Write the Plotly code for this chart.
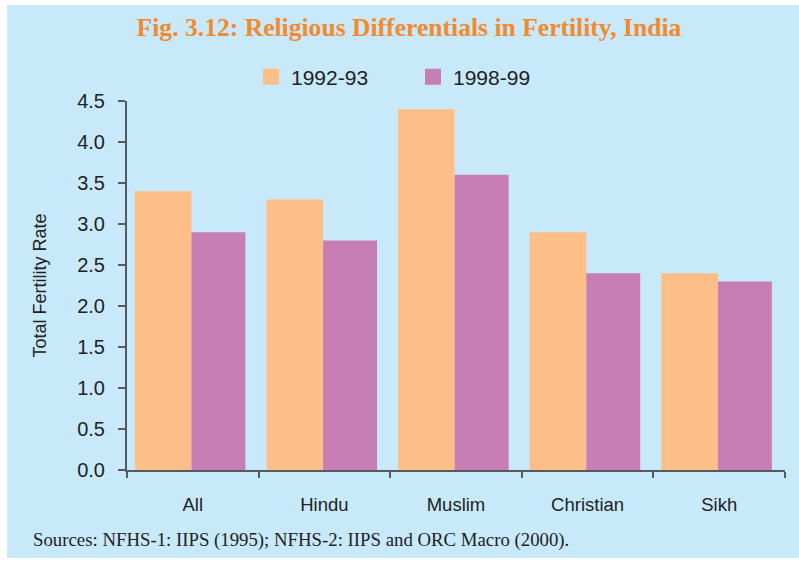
import plotly.graph_objects as go

categories = ["All", "Hindu", "Muslim", "Christian", "Sikh"]
tfr_1992 = [3.4, 3.3, 4.4, 2.9, 2.4]
tfr_1998 = [2.9, 2.8, 3.6, 2.4, 2.3]
series_names = ["1992-93", "1998-99"]
y_ticks = [0, 0.5, 1.0, 1.5, 2.0, 2.5, 3.0, 3.5, 4.0, 4.5]

ORANGE = "#FDBE87"
PURPLE = "#C77EB5"
BG = "#C8E9FA"
AXIS = "#555a60"
SANS = "Liberation Sans, Arial, sans-serif"
SERIF = "Liberation Serif, Times New Roman, serif"

fig = go.Figure()
fig.add_trace(go.Bar(x=categories, y=tfr_1992, name=series_names[0],
                     marker=dict(color=ORANGE, line=dict(width=0)),
                     width=0.43, offset=-0.44, showlegend=False))
fig.add_trace(go.Bar(x=categories, y=tfr_1998, name=series_names[1],
                     marker=dict(color=PURPLE, line=dict(width=0)),
                     width=0.41, offset=-0.01, showlegend=False))
# legend-only entries with larger square swatches
for nm, col in zip(series_names, [ORANGE, PURPLE]):
    fig.add_trace(go.Scatter(x=[None], y=[None], mode="markers", name=nm,
                             marker=dict(symbol="square", size=18, color=col),
                             showlegend=True, hoverinfo="skip"))

W, H = 799, 562
L, R, T, B = 127, 14, 101, 92
pw, ph = W - L - R, H - T - B

def px(x):
    return (x - L) / pw

def py(y):
    return (H - B - y) / ph

fig.add_shape(type="rect", xref="paper", yref="paper",
              x0=px(7), x1=px(799), y0=py(558), y1=py(5),
              fillcolor=BG, line=dict(width=0), layer="below")

fig.update_layout(
    width=W, height=H,
    margin=dict(l=L, r=R, t=T, b=B, autoexpand=False),
    paper_bgcolor="white", plot_bgcolor=BG,
    barmode="overlay",
    showlegend=True,
    legend=dict(orientation="h", xref="paper", yref="paper",
                x=px(413), xanchor="center", y=py(77), yanchor="middle",
                font=dict(family=SANS, size=21, color="#222"),
                bgcolor="rgba(0,0,0,0)", entrywidth=117, traceorder="normal",
                itemsizing="trace"),
    title=dict(text="Fig. 3.12: Religious Differentials in Fertility, India",
               x=409 / W, xref="container", xanchor="center",
               y=1 - 27 / H, yref="container", yanchor="middle",
               font=dict(family=SERIF, size=25.6, color="#F28A2E", weight="bold")),
    font=dict(family=SANS, color="#222"),
)

fig.update_xaxes(type="category", showline=True, linecolor=AXIS, linewidth=2,
                 ticks="outside", tickson="boundaries", ticklen=6, tickwidth=1.5,
                 tickcolor=AXIS, showgrid=False, zeroline=False,
                 tickfont=dict(family=SANS, size=18.5, color="#222"), ticklabelstandoff=17)
fig.update_yaxes(range=[0, 4.5], tickvals=y_ticks, tickformat=".1f",
                 showline=True, linecolor=AXIS, linewidth=2,
                 ticks="outside", ticklen=7, tickwidth=1.5, tickcolor=AXIS,
                 showgrid=False, zeroline=False, ticklabelstandoff=9,
                 tickfont=dict(family=SANS, size=20, color="#222"),
                 title=dict(text="Total Fertility Rate", standoff=26,
                            font=dict(family=SANS, size=18, color="#222")))

fig.add_annotation(text="Sources: NFHS-1: IIPS (1995); NFHS-2: IIPS and ORC Macro (2000).",
                   xref="paper", yref="paper", x=px(31), y=py(540),
                   xanchor="left", yanchor="middle", showarrow=False,
                   font=dict(family=SERIF, size=18.8, color="#222"))

fig.write_html("out.html", post_script="document.body.style.margin='0';",
               config={"displayModeBar": False})
